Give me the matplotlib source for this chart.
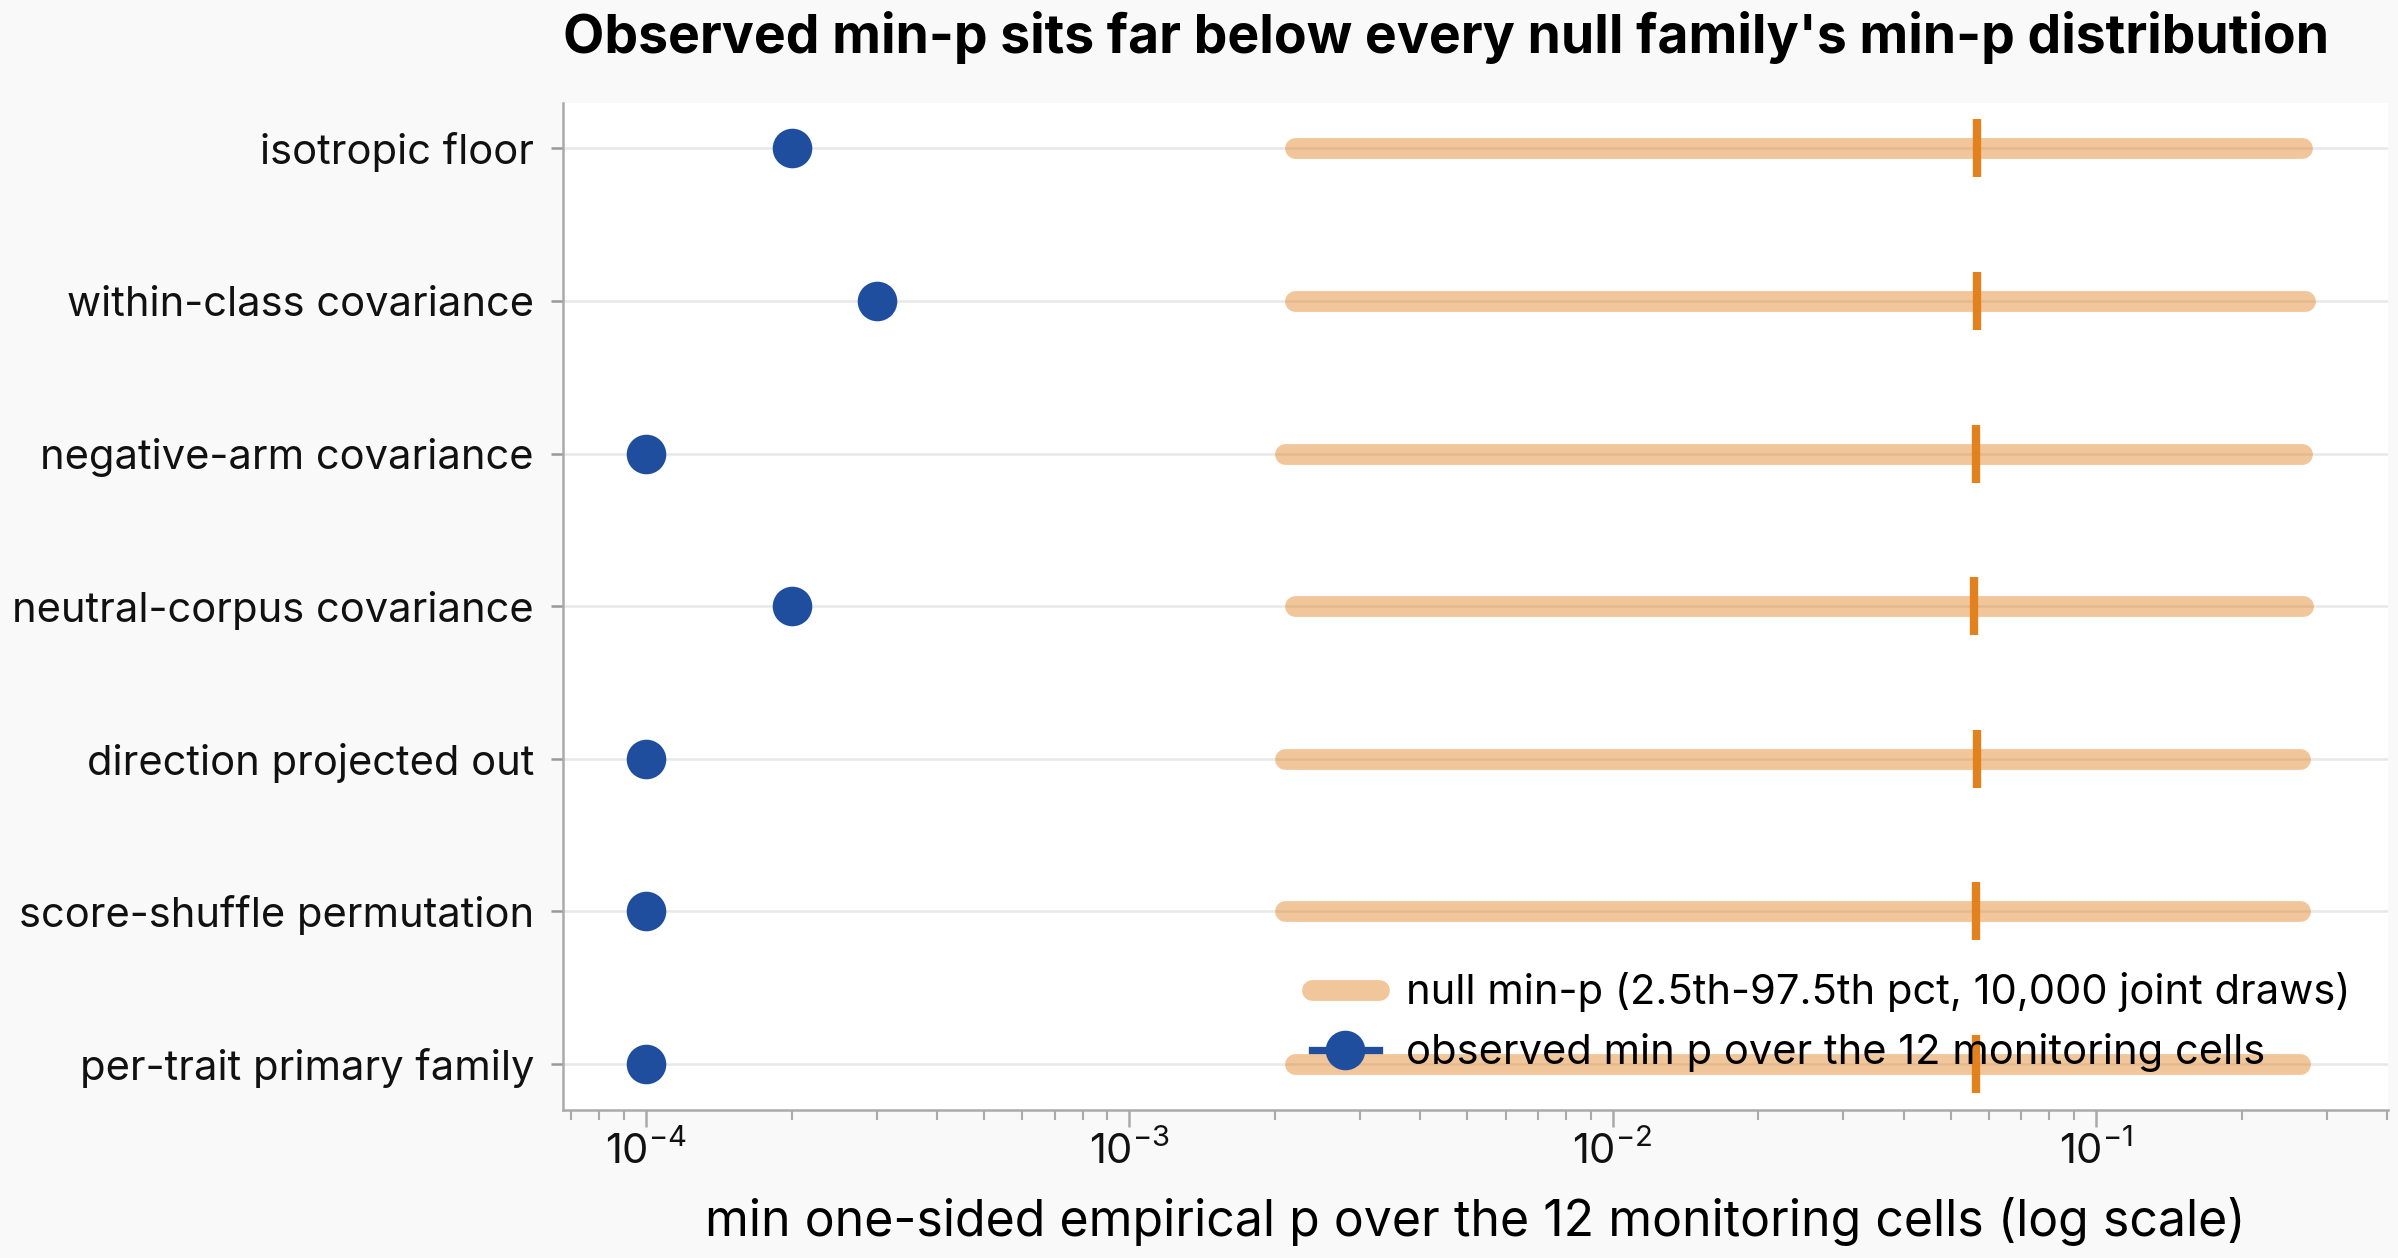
import matplotlib
matplotlib.use("Agg")
import matplotlib.pyplot as plt

plt.rcParams["font.family"] = ["Inter", "DejaVu Sans"]
plt.rcParams["mathtext.fontset"] = "custom"
plt.rcParams["mathtext.rm"] = "Inter"
plt.rcParams["mathtext.it"] = "Inter"

# null families, top to bottom as shown
families = [
    "isotropic floor",
    "within-class covariance",
    "negative-arm covariance",
    "neutral-corpus covariance",
    "direction projected out",
    "score-shuffle permutation",
    "per-trait primary family",
]
observed_min_p = [2e-4, 3e-4, 1e-4, 2e-4, 1e-4, 1e-4, 1e-4]
null_lo = [0.0022, 0.0022, 0.0021, 0.0022, 0.0021, 0.0021, 0.0022]
null_med = [0.0566, 0.0566, 0.0564, 0.0558, 0.0566, 0.0564, 0.0564]
null_hi = [0.266, 0.270, 0.267, 0.268, 0.264, 0.264, 0.264]

BLUE = "#1F4E9E"
ORANGE = "#E1821F"

fig, ax = plt.subplots(figsize=(2398 / 150, 1258 / 150), dpi=150)
fig.patch.set_facecolor("#f9f9f9")
ax.set_facecolor("white")
fig.subplots_adjust(left=0.2348, right=0.9957, top=0.9184, bottom=0.1179)

for i, fam in enumerate(families):
    ax.plot([null_lo[i], null_hi[i]], [i, i], color=ORANGE, alpha=0.45, lw=10,
            solid_capstyle="round", zorder=2,
            label="null min-p (2.5th-97.5th pct, 10,000 joint draws)" if i == 0 else None)
    ax.plot([null_med[i], null_med[i]], [i - 0.19, i + 0.19], color=ORANGE, lw=4,
            solid_capstyle="butt", zorder=3)
    ax.plot([observed_min_p[i]], [i], marker="o", ms=18, color=BLUE, lw=3.5, zorder=4,
            label="observed min p over the 12 monitoring cells" if i == 0 else None)

ax.set_xscale("log")
ax.set_ylim(len(families) - 0.7, -0.3)
ax.set_yticks(range(len(families)))
ax.set_yticklabels(families, fontsize=20)
ax.tick_params(axis="x", labelsize=20, colors="#aaaaaa", labelcolor="#111111", length=8, width=1.2, pad=2)
ax.tick_params(axis="x", which="minor", colors="#aaaaaa", length=5, width=1.0)
ax.tick_params(axis="y", colors="#999999", labelcolor="#111111", length=6, width=1.2, pad=8)
ax.grid(axis="y", color="#e8e8e8", lw=1.2)
ax.set_axisbelow(True)
for side in ("top", "right"):
    ax.spines[side].set_visible(False)
for side in ("left", "bottom"):
    ax.spines[side].set_color("#aaaaaa")
    ax.spines[side].set_linewidth(1.2)

ax.set_xlabel("min one-sided empirical p over the 12 monitoring cells (log scale)", fontsize=24, labelpad=12)
ax.set_title("Observed min-p sits far below every null family's min-p distribution",
             loc="left", fontsize=25.7, fontweight="bold", pad=24)
ax.legend(loc="lower right", frameon=False, fontsize=20, handlelength=1.6, handletextpad=0.65)

fig.savefig("out.png", dpi=150, facecolor=fig.get_facecolor())
